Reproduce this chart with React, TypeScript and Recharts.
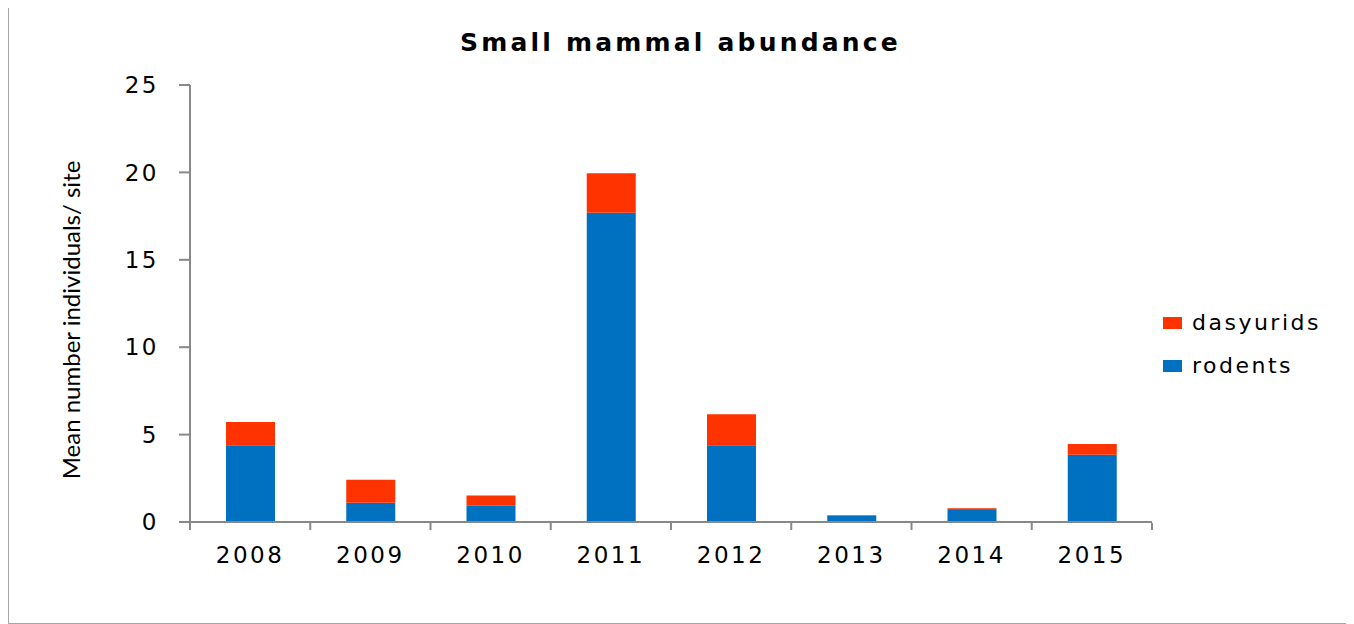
import React from 'react';
import { BarChart, Bar, XAxis, YAxis, Legend } from 'recharts';

const years = ['2008', '2009', '2010', '2011', '2012', '2013', '2014', '2015'];
const rodents = [4.39, 1.1, 0.93, 17.69, 4.39, 0.34, 0.68, 3.85];
const dasyurids = [1.33, 1.32, 0.59, 2.26, 1.77, 0.04, 0.1, 0.61];
const yTicks = [0, 5, 10, 15, 20, 25];
const legendOrder = ['dasyurids', 'rodents'];

// slot = index of the category, used by the hidden axis that draws the between-category tick marks
const chartData = years.map((year, i) => ({ year, slot: i + 0.5, rodents: rodents[i], dasyurids: dasyurids[i] }));
const edgeTicks = [...years.map((_, i) => i), years.length];

const axisGrey = '#888888';
const tickFont = { fontSize: 23, fill: '#000', fontFamily: 'DejaVu Sans', style: { letterSpacing: '2.5px' } };

function LegendBox({ payload }: any) {
    const items = [...(payload || [])].sort(
        (a: any, b: any) => legendOrder.indexOf(a.value) - legendOrder.indexOf(b.value)
    );
    return (
        <div>
            {items.map((item: any) => (
                <div key={item.value} style={{ display: 'flex', alignItems: 'center', height: 43 }}>
                    <span style={{ width: 19, height: 12, background: item.color, marginRight: 10 }} />
                    <span style={{ fontSize: 22, fontFamily: 'DejaVu Sans', letterSpacing: '2.5px', color: '#000' }}>{item.value}</span>
                </div>
            ))}
        </div>
    );
}

export default function App() {
    return (
        <div
            style={{
                position: 'relative',
                width: 1345,
                height: 617,
                marginTop: -1,
                border: '1px solid #a6a6a6',
                boxSizing: 'border-box',
                background: '#fff',
            }}
        >
            <div
                style={{
                    position: 'absolute',
                    top: 21,
                    left: 0,
                    width: '100%',
                    textAlign: 'center',
                    fontFamily: 'DejaVu Sans',
                    fontWeight: 'bold',
                    fontSize: 25,
                    lineHeight: '28px',
                    letterSpacing: '3.2px',
                }}
            >
                Small mammal abundance
            </div>
            <div
                style={{
                    position: 'absolute',
                    left: 62 - 200,
                    top: 312 - 15,
                    width: 400,
                    height: 30,
                    lineHeight: '30px',
                    textAlign: 'center',
                    fontFamily: 'Lato',
                    fontSize: 24,
                    transform: 'rotate(-90deg)',
                }}
            >
                Mean number individuals/ site
            </div>
            <div style={{ position: 'absolute', left: 0, top: 0 }}>
                <BarChart width={1343} height={615} data={chartData} margin={{ top: 77, right: 200, left: 101, bottom: 62 }}>
                    <XAxis
                        dataKey="year"
                        height={1}
                        axisLine={{ stroke: axisGrey, strokeWidth: 2 }}
                        tickLine={false}
                        tickSize={0}
                        tickMargin={25}
                        tick={tickFont}
                    />
                    <XAxis
                        xAxisId="edges"
                        dataKey="slot"
                        type="number"
                        domain={[0, years.length]}
                        allowDataOverflow={true}
                        ticks={edgeTicks}
                        height={38}
                        tickFormatter={() => ''}
                        tickSize={7}
                        axisLine={false}
                        tickLine={{ stroke: axisGrey, strokeWidth: 2 }}
                    />
                    <YAxis
                        domain={[0, 25]}
                        ticks={yTicks}
                        width={80}
                        tickSize={11}
                        tickMargin={20}
                        axisLine={{ stroke: axisGrey, strokeWidth: 2 }}
                        tickLine={{ stroke: axisGrey, strokeWidth: 2 }}
                        tick={tickFont}
                    />
                    <Legend
                        layout="vertical"
                        align="center"
                        verticalAlign="middle"
                        content={<LegendBox />}
                        wrapperStyle={{ left: 1154, top: 293, width: 180 }}
                    />
                    <Bar dataKey="rodents" name="rodents" stackId="a" fill="#0070C0" barSize={49} isAnimationActive={false} />
                    <Bar dataKey="dasyurids" name="dasyurids" stackId="a" fill="#FF3300" barSize={49} isAnimationActive={false} />
                </BarChart>
            </div>
        </div>
    );
}
